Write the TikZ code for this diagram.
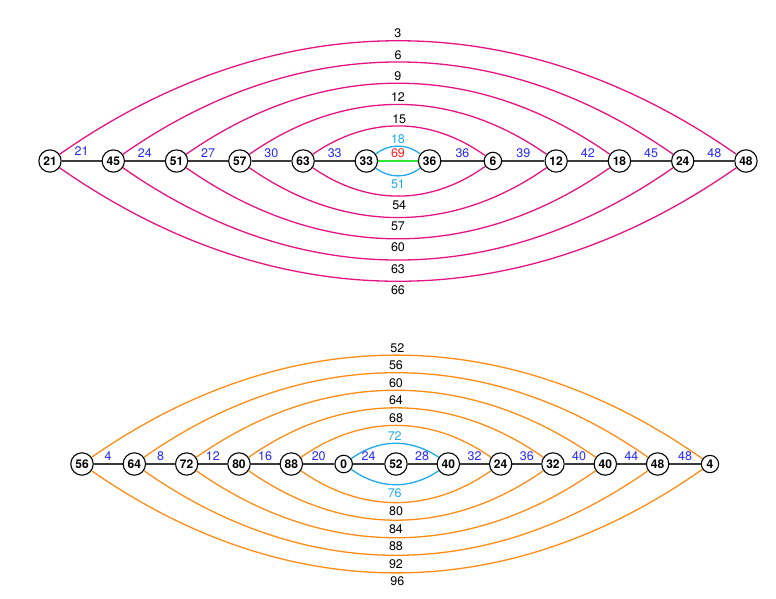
\documentclass[tikz,border=0pt]{standalone}
\usepackage{fontspec}
\setmainfont{TeX Gyre Heros}
\usetikzlibrary{backgrounds}
\definecolor{arcpink}{RGB}{230,20,130}
\definecolor{arcorange}{RGB}{255,140,20}
\definecolor{arccyan}{RGB}{30,170,240}
\definecolor{labblue}{RGB}{40,40,255}
\definecolor{edgegray}{RGB}{60,60,60}
\definecolor{edgegreen}{RGB}{50,230,50}
\definecolor{labred}{RGB}{255,30,30}
\begin{document}
\begin{tikzpicture}[x=1pt,y=-1pt,
  vtx/.style={circle,draw=black,line width=1.1pt,fill=white,inner sep=2.3pt,
    font=\fontsize{12}{13}\selectfont\bfseries},
  chainedge/.style={draw=edgegray,line width=1.8pt},
  pinkarc/.style={draw=arcpink,line width=1.3pt},
  orangearc/.style={draw=arcorange,line width=1.3pt},
  cyanarc/.style={draw=arccyan,line width=1.3pt},
  greenedge/.style={draw=edgegreen,line width=1.8pt},
  toplab/.style={midway,above,inner sep=2pt,font=\fontsize{12.5}{13}\selectfont},
  botlab/.style={midway,below,inner sep=3.6pt,font=\fontsize{12.5}{13}\selectfont},
  elab/.style={midway,above,inner sep=2.3pt,text=labblue,font=\fontsize{12.5}{13}\selectfont},
]
\useasboundingbox (0,0) rectangle (776,598);

% ---------- top graph ----------
\foreach \lab [count=\i from 0] in {21,45,51,57,63,33,36,6,12,18,24,48}
  \node[vtx] (t\i) at ({50+63.27*\i},161) {\lab};

\begin{scope}[on background layer]
\draw[pinkarc] (t0) to[bend left=35] node[toplab]{3} (t11);
\draw[pinkarc] (t1) to[bend left=35] node[toplab]{6} (t10);
\draw[pinkarc] (t2) to[bend left=35] node[toplab]{9} (t9);
\draw[pinkarc] (t3) to[bend left=35] node[toplab]{12} (t8);
\draw[pinkarc] (t4) to[bend left=35] node[toplab]{15} (t7);
\draw[cyanarc] (t5) to[bend left=37] node[toplab,text=arccyan]{18} (t6);
\draw[cyanarc] (t5) to[bend right=37] node[botlab,inner sep=3pt,text=arccyan]{51} (t6);
\draw[pinkarc] (t4) to[bend right=35] node[botlab]{54} (t7);
\draw[pinkarc] (t3) to[bend right=35] node[botlab]{57} (t8);
\draw[pinkarc] (t2) to[bend right=35] node[botlab]{60} (t9);
\draw[pinkarc] (t1) to[bend right=35] node[botlab]{63} (t10);
\draw[pinkarc] (t0) to[bend right=35] node[botlab]{66} (t11);
\draw[greenedge] (t5) -- node[elab,text=labred]{69} (t6);
\draw[chainedge] (t0) -- node[elab,inner sep=4.5pt]{21} (t1);
\draw[chainedge] (t1) -- node[elab]{24} (t2);
\draw[chainedge] (t2) -- node[elab]{27} (t3);
\draw[chainedge] (t3) -- node[elab]{30} (t4);
\draw[chainedge] (t4) -- node[elab]{33} (t5);
\draw[chainedge] (t6) -- node[elab]{36} (t7);
\draw[chainedge] (t7) -- node[elab]{39} (t8);
\draw[chainedge] (t8) -- node[elab]{42} (t9);
\draw[chainedge] (t9) -- node[elab]{45} (t10);
\draw[chainedge] (t10) -- node[elab]{48} (t11);
\end{scope}

% ---------- bottom graph ----------
\foreach \lab [count=\i from 0] in {56,64,72,80,88,0,52,40,24,32,40,48,4}
  \node[vtx] (b\i) at ({82+52.33*\i},464) {\lab};

\begin{scope}[on background layer]
\draw[orangearc] (b0) to[bend left=35] node[toplab]{52} (b12);
\draw[orangearc] (b1) to[bend left=35] node[toplab]{56} (b11);
\draw[orangearc] (b2) to[bend left=35] node[toplab]{60} (b10);
\draw[orangearc] (b3) to[bend left=35] node[toplab]{64} (b9);
\draw[orangearc] (b4) to[bend left=35] node[toplab]{68} (b8);
\draw[cyanarc] (b5) to[bend left=35] node[toplab,text=arccyan]{72} (b7);
\draw[cyanarc] (b5) to[bend right=35] node[botlab,inner sep=3pt,text=arccyan]{76} (b7);
\draw[orangearc] (b4) to[bend right=35] node[botlab]{80} (b8);
\draw[orangearc] (b3) to[bend right=35] node[botlab]{84} (b9);
\draw[orangearc] (b2) to[bend right=35] node[botlab]{88} (b10);
\draw[orangearc] (b1) to[bend right=35] node[botlab]{92} (b11);
\draw[orangearc] (b0) to[bend right=35] node[botlab]{96} (b12);
\draw[chainedge] (b0) -- node[elab]{4} (b1);
\draw[chainedge] (b1) -- node[elab]{8} (b2);
\draw[chainedge] (b2) -- node[elab]{12} (b3);
\draw[chainedge] (b3) -- node[elab]{16} (b4);
\draw[chainedge] (b4) -- node[elab]{20} (b5);
\draw[chainedge] (b5) -- node[elab]{24} (b6);
\draw[chainedge] (b6) -- node[elab]{28} (b7);
\draw[chainedge] (b7) -- node[elab]{32} (b8);
\draw[chainedge] (b8) -- node[elab]{36} (b9);
\draw[chainedge] (b9) -- node[elab]{40} (b10);
\draw[chainedge] (b10) -- node[elab]{44} (b11);
\draw[chainedge] (b11) -- node[elab]{48} (b12);
\end{scope}
\end{tikzpicture}
\end{document}
